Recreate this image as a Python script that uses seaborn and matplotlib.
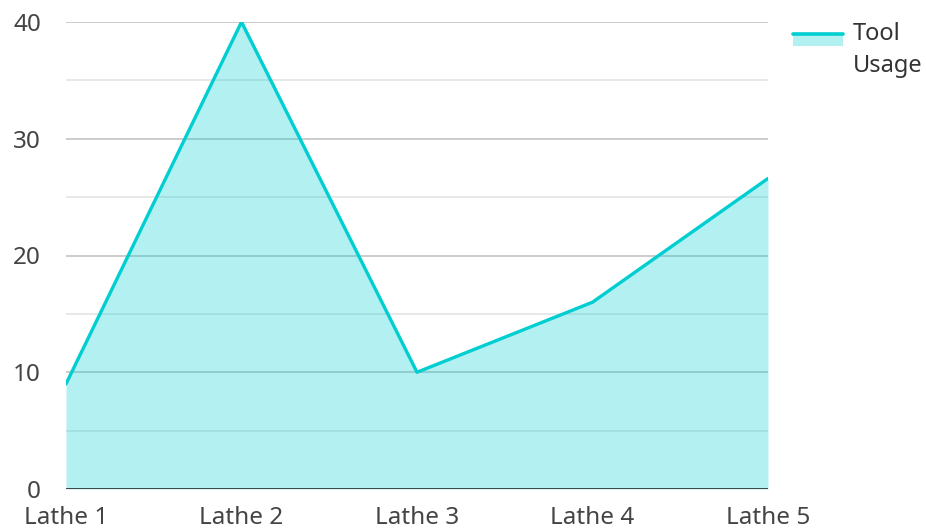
import matplotlib
matplotlib.use("Agg")
import matplotlib.pyplot as plt
import seaborn as sns
import pandas as pd
from matplotlib.patches import Rectangle
from matplotlib.lines import Line2D

categories = ["Lathe 1", "Lathe 2", "Lathe 3", "Lathe 4", "Lathe 5"]
tool_usage = [9, 40, 10, 16, 26.6]
series_name = "Tool Usage"
y_ticks = [0, 10, 20, 30, 40]
y_minor = [5, 15, 25, 35]

sns.set_theme(style="white")
plt.rcParams["font.family"] = ["Noto Sans", "DejaVu Sans"]

line_color = "#00CED1"
fig = plt.figure(figsize=(9.26, 5.28), dpi=100)
ax = fig.add_axes([66 / 926, 1 - 489 / 528, (768 - 66) / 926, (489 - 22) / 528])

df = pd.DataFrame({"x": list(range(len(categories))), "y": tool_usage})
for v in y_minor:
    ax.axhline(v, color="#e6e6e6", linewidth=1.3, zorder=0)
for v in y_ticks[1:]:
    ax.axhline(v, color="#c8c8c8", linewidth=1.3, zorder=0)
ax.fill_between(df["x"], 0, df["y"], color=line_color, alpha=0.3, linewidth=0, zorder=1)
sns.lineplot(data=df, x="x", y="y", ax=ax, color=line_color, linewidth=2.4, zorder=4)
ax.axhline(0, color="#333333", linewidth=2, zorder=5)

ax.set_xlim(0, len(categories) - 1)
ax.set_ylim(0, 40)
ax.set_xticks(range(len(categories)))
ax.set_xticklabels(categories)
ax.set_yticks(y_ticks)
ax.set_xlabel("")
ax.set_ylabel("")
ax.tick_params(axis="both", length=0, labelsize=17.5, labelcolor="#444444")
ax.tick_params(axis="x", pad=12)
ax.tick_params(axis="y", pad=18)
for s in ax.spines.values():
    s.set_visible(False)

# legend
W, H = 926, 528
fig.add_artist(Rectangle((793 / W, 1 - 45.5 / H), 50 / W, 12.5 / H, transform=fig.transFigure,
                         facecolor=line_color, alpha=0.3, linewidth=0))
fig.add_artist(Line2D([793 / W, 843 / W], [1 - 33.5 / H, 1 - 33.5 / H], transform=fig.transFigure,
                      color=line_color, linewidth=2.6))
fig.text(853 / W, 1 - 34 / H, "Tool", fontsize=17, color="#333333", va="center", ha="left")
fig.text(853 / W, 1 - 66 / H, "Usage", fontsize=17, color="#333333", va="center", ha="left")

fig.savefig("out.png", dpi=100)
